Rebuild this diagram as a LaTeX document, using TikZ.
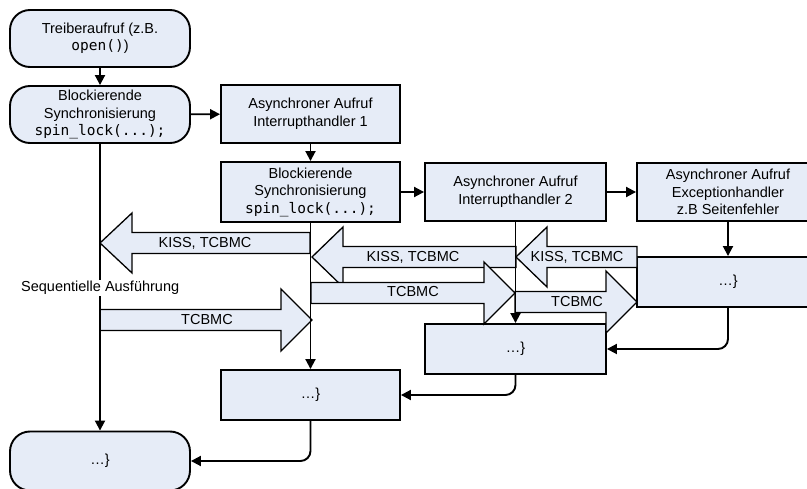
\documentclass[tikz,border=0pt]{standalone}
\usepackage{fontspec}
\setmainfont{Liberation Sans}
\newfontfamily\codefont{DejaVu Sans Mono}
\usetikzlibrary{arrows.meta}
\definecolor{boxfill}{RGB}{230,236,247}
\newcommand\lblock[4]{% tip x, back x, end x, centre y
  \draw[blk] (#1,#4) -- (#2,#4-30) -- (#2,#4-10.5) -- (#3,#4-10.5) -- (#3,#4+10.5) -- (#2,#4+10.5) -- (#2,#4+30) -- cycle;}
\newcommand\rblock[4]{% tail x, back x, tip x, centre y
  \draw[blk] (#1,#4-10.5) -- (#2,#4-10.5) -- (#2,#4-31) -- (#3,#4) -- (#2,#4+31) -- (#2,#4+10.5) -- (#1,#4+10.5) -- cycle;}
\begin{document}
\begin{tikzpicture}[x=1pt,y=-1pt,
  every node/.style={font=\fontsize{14.5}{17.5}\selectfont},
  box/.style={draw, line width=1.9pt, fill=boxfill, align=center, inner sep=0pt},
  rbox/.style={box, rounded corners=20pt},
  conn/.style={line width=1.9pt, -{Triangle[length=10pt,width=10pt]}},
  blk/.style={draw, line width=1.3pt, fill=boxfill, line join=miter},
]
\useasboundingbox (0,0) rectangle (807,489);
\clip (0,0) rectangle (807,489);

% nodes
\node[rbox, minimum width=180pt, minimum height=57pt] (n1) at (100,38.5) {Treiberaufruf (z.B.\\{\codefont open()})};
\node[rbox, minimum width=180pt, minimum height=57pt] (n2) at (100,114.5) {Blockierende\\Synchronisierung\\{\codefont spin\_lock(...);}};
\node[box, minimum width=179pt, minimum height=58pt] (n3) at (310.5,114) {Asynchroner Aufruf\\Interrupthandler 1};
\node[box, minimum width=179pt, minimum height=60pt] (n4) at (310.5,192) {Blockierende\\Synchronisierung\\{\codefont spin\_lock(...);}};
\node[box, minimum width=181pt, minimum height=58pt] (n5) at (515.5,192) {Asynchroner Aufruf\\Interrupthandler 2};
\node[box, minimum width=182pt, minimum height=58pt] (n6) at (728,192) {Asynchroner Aufruf\\Exceptionhandler\\z.B Seitenfehler};
\node[box, minimum width=182pt, minimum height=50pt] (n7) at (728,282) {…\}};
\node[box, minimum width=181pt, minimum height=50pt] (n8) at (515.5,349) {…\}};
\node[box, minimum width=179pt, minimum height=50pt] (n9) at (310.5,395) {…\}};
\node[rbox, minimum width=180pt, minimum height=59pt] (n10) at (100,461) {…\}};

% block arrows
\lblock{100}{132}{310}{243}
\lblock{312}{343}{516}{257}
\lblock{516}{547}{637}{257}
\rblock{311}{484}{515}{293}
\rblock{515}{606}{637}{302}
\rblock{100}{281}{312}{320}
\node (la) at (205,243) {KISS, TCBMC};
\node (lb) at (413,257) {KISS, TCBMC};
\node (lc) at (577,257) {KISS, TCBMC};
\node (ld) at (413,292) {TCBMC};
\node (le) at (577,302) {TCBMC};
\node (lf) at (207,320) {TCBMC};

% connectors
\draw[conn] (n1) -- (n2);
\draw[conn] (n2) -- (n3);
\draw[conn] (n3) -- (n4);
\draw[conn] (n4) -- (n5);
\draw[conn] (n5) -- (n6);
\draw[conn] (n6) -- (n7);
\draw[conn] (n2) -- (n10);
\draw[conn] (n4.south) -- (n9.north);
\draw[conn] (n5.south) -- (n8.north);
\draw[conn, rounded corners=10pt] (n7.south) |- (n8.east);
\draw[conn, rounded corners=10pt] (n8.south) |- (n9.east);
\draw[conn, rounded corners=10pt] (n9.south) |- (n10.east);

\node[fill=white, inner sep=1pt, anchor=west] (seq) at (20,288) {Sequentielle Ausführung};
\end{tikzpicture}
\end{document}
